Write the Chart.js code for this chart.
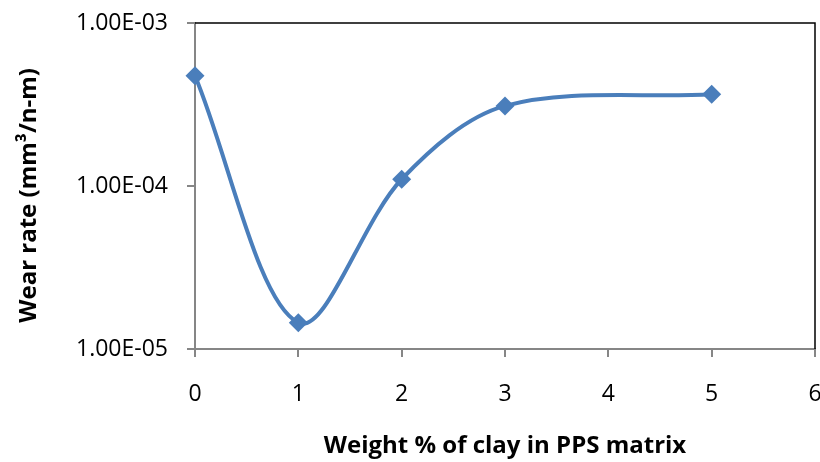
<!DOCTYPE html>
<html><head><meta charset="utf-8">
<script src="https://cdn.jsdelivr.net/npm/chart.js@4"></script>
<style>html,body{margin:0;padding:0;background:#fff}#wrap{width:820px;height:462px}</style>
</head><body><div id="wrap"><canvas id="c" width="820" height="462"></canvas></div>
<script>
const clayPercent = [0, 1, 2, 3, 5];
const wearRate = [4.75e-4, 1.45e-5, 1.10e-4, 3.10e-4, 3.65e-4];
const yTickValues = [1e-5, 1e-4, 1e-3];
const xTitle = 'Weight % of clay in PPS matrix';
const yTitle = 'Wear rate (mm³/n-m)';

function fmtE(v){
  const e = Math.round(Math.log10(v));
  const m = v / Math.pow(10, e);
  const s = e < 0 ? '-' : '+';
  const a = Math.abs(e);
  return m.toFixed(2) + 'E' + s + (a < 10 ? '0' + a : a);
}

const FONT = '"Open Sans", "Liberation Sans", sans-serif';
const borderPlugin = {
  id: 'plotBorder',
  beforeDatasetsDraw(chart){
    const {ctx, chartArea:a} = chart;
    ctx.save();
    ctx.strokeStyle = '#000';
    ctx.lineWidth = 1.5;
    ctx.beginPath();
    ctx.moveTo(a.left, a.top); ctx.lineTo(a.right, a.top); ctx.lineTo(a.right, a.bottom);
    ctx.stroke();
    ctx.restore();
  }
};

new Chart(document.getElementById('c'), {
  type: 'line',
  data: {
    datasets: [{
      data: clayPercent.map((x,i)=>({x, y: wearRate[i]})),
      borderColor: '#4A7EBB',
      backgroundColor: '#4A7EBB',
      borderWidth: 4,
      pointStyle: 'rectRot',
      pointRadius: 9.5,
      pointBackgroundColor: '#4A7EBB',
      pointBorderColor: '#4A7EBB',
      pointBorderWidth: 0,
      tension: 0.33,
      cubicInterpolationMode: 'default',
      fill: false
    }]
  },
  options: {
    responsive: false,
    animation: false,
    events: [],
    layout: { autoPadding: false, padding: { top: 23, right: 5, left: 0, bottom: 0 } },
    plugins: { legend: { display: false }, tooltip: { enabled: false } },
    elements: { line: { capBezierPoints: false } },
    clip: false,
    scales: {
      x: {
        type: 'linear', min: 0, max: 6,
        ticks: { stepSize: 1, color: '#000', font: { family: FONT, size: 23 }, padding: 24, maxRotation: 0 },
        grid: { drawOnChartArea: false, tickLength: 8, color: '#868686', lineWidth: 2 },
        border: { color: '#868686', width: 2 },
        title: { display: true, text: xTitle, color: '#000', font: { family: FONT, size: 24, weight: 'bold' }, padding: { top: 0, bottom: 1 } },
        afterFit(s){ s.height = 462 - 349; s.paddingLeft = 0; s.paddingRight = 0; }
      },
      y: {
        type: 'logarithmic', min: 1e-5, max: 1e-3,
        afterBuildTicks(s){ s.ticks = yTickValues.map(v=>({value: v, major: true})); },
        ticks: { color: '#000', font: { family: FONT, size: 23 }, padding: 19, callback: v => fmtE(v) },
        grid: { drawOnChartArea: false, tickLength: 8, color: '#868686', lineWidth: 2 },
        border: { color: '#868686', width: 2 },
        title: { display: true, text: yTitle + '   ', color: '#000', font: { family: FONT, size: 24, weight: 'bold' }, padding: { top: 15, bottom: 0 } },
        afterFit(s){ s.width = 195; s.paddingTop = 0; s.paddingBottom = 0; }
      }
    }
  },
  plugins: [borderPlugin]
});
</script></body></html>
